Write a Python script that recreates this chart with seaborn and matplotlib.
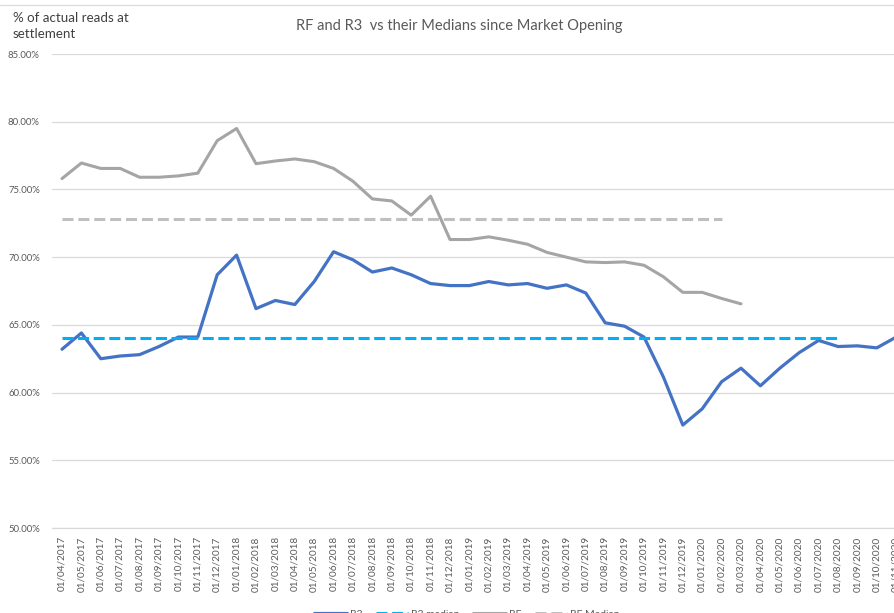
import matplotlib
matplotlib.use("Agg")
import matplotlib.pyplot as plt
from matplotlib.lines import Line2D
from matplotlib.ticker import FixedLocator, FuncFormatter
import seaborn as sns
import pandas as pd

# ---------------- data ----------------
month_labels = [
    "01/04/2017", "01/05/2017", "01/06/2017", "01/07/2017", "01/08/2017", "01/09/2017",
    "01/10/2017", "01/11/2017", "01/12/2017", "01/01/2018", "01/02/2018", "01/03/2018",
    "01/04/2018", "01/05/2018", "01/06/2018", "01/07/2018", "01/08/2018", "01/09/2018",
    "01/10/2018", "01/11/2018", "01/12/2018", "01/01/2019", "01/02/2019", "01/03/2019",
    "01/04/2019", "01/05/2019", "01/06/2019", "01/07/2019", "01/08/2019", "01/09/2019",
    "01/10/2019", "01/11/2019", "01/12/2019", "01/01/2020", "01/02/2020", "01/03/2020",
    "01/04/2020", "01/05/2020", "01/06/2020", "01/07/2020", "01/08/2020", "01/09/2020",
    "01/10/2020", "01/11/2020",
]
r3_values = [
    63.2, 64.4, 62.5, 62.7, 62.8, 63.4, 64.1, 64.1, 68.7, 70.15,
    66.2, 66.8, 66.5, 68.2, 70.4, 69.8, 68.9, 69.2, 68.7, 68.05,
    67.9, 67.9, 68.2, 67.95, 68.05, 67.7, 67.95, 67.35, 65.15, 64.9,
    64.1, 61.15, 57.6, 58.8, 60.8, 61.8, 60.5, 61.8, 62.95, 63.85,
    63.4, 63.45, 63.3, 64.1,
]
rf_values = [
    75.8, 76.95, 76.55, 76.55, 75.9, 75.9, 76.0, 76.2, 78.6, 79.5,
    76.9, 77.1, 77.25, 77.05, 76.55, 75.6, 74.3, 74.15, 73.1, 74.5,
    71.3, 71.3, 71.5, 71.25, 70.95, 70.35, 70.0, 69.65, 69.6, 69.65,
    69.4, 68.55, 67.4, 67.4, 66.95, 66.55,
]
r3_median_value = 64.0
r3_median_months = 41      # 01/04/2017 .. 01/08/2020
rf_median_value = 72.85
rf_median_months = 35      # 01/04/2017 .. 01/02/2020
y_ticks = [50, 55, 60, 65, 70, 75, 80, 85]

title_text = "RF and R3  vs their Medians since Market Opening"
ylabel_text = "% of actual reads at\nsettlement"

# ---------------- frames ----------------
df_r3 = pd.DataFrame({"x": range(len(r3_values)), "y": r3_values})
df_rf = pd.DataFrame({"x": range(len(rf_values)), "y": rf_values})
df_r3m = pd.DataFrame({"x": range(r3_median_months), "y": [r3_median_value] * r3_median_months})
df_rfm = pd.DataFrame({"x": range(rf_median_months), "y": [rf_median_value] * rf_median_months})

# ---------------- style ----------------
sns.set_style("white")
plt.rcParams["font.family"] = ["Lato", "DejaVu Sans"]

W, H = 894, 613
fig = plt.figure(figsize=(W / 100, H / 100), dpi=100)
left_px, right_px = 52.3, 52.3 + 44 * 19.4
top_px, bottom_px = 54, 528
ax = fig.add_axes([left_px / W, 1 - bottom_px / H, (right_px - left_px) / W, (bottom_px - top_px) / H])

c_r3 = "#4472C4"
c_r3m = "#00B0F0"
c_rf = "#A5A5A5"
c_rfm = "#BFBFBF"

sns.lineplot(data=df_r3, x="x", y="y", ax=ax, color=c_r3, linewidth=2.3, label="R3")
sns.lineplot(data=df_r3m, x="x", y="y", ax=ax, color=c_r3m, linewidth=2.2,
             linestyle=(0, (3.6, 1.5)), label="R3 median")
sns.lineplot(data=df_rf, x="x", y="y", ax=ax, color=c_rf, linewidth=2.2, label="RF")
sns.lineplot(data=df_rfm, x="x", y="y", ax=ax, color=c_rfm, linewidth=2.2,
             linestyle=(0, (3.6, 1.6)), label="RF Median")

leg = ax.get_legend()
handles, labels = ax.get_legend_handles_labels()
if leg is not None:
    leg.remove()

ax.set_xlim(-0.5, len(month_labels) - 0.5)
ax.set_ylim(50, 85)

# y axis
ax.set_yticks(y_ticks)
ax.yaxis.set_major_formatter(FuncFormatter(lambda v, p: f"{v:.2f}%"))
ax.tick_params(axis="y", length=0, pad=9, labelsize=6.8, labelcolor="#595959")
ax.grid(axis="y", color="#D9D9D9", linewidth=0.9)
ax.set_axisbelow(True)

# x axis (category)
ax.set_xticks(range(len(month_labels)))
ax.set_xticklabels(month_labels, rotation=90)
ax.xaxis.set_minor_locator(FixedLocator([i - 0.5 for i in range(len(month_labels) + 1)]))
ax.tick_params(axis="x", which="major", length=0, pad=6, labelsize=7.2, labelcolor="#595959")
ax.tick_params(axis="x", which="minor", length=4, width=0.8, color="#D9D9D9", direction="out")
ax.set_xlabel("")
ax.set_ylabel("")

for s in ["left", "right", "top"]:
    ax.spines[s].set_visible(False)
ax.spines["bottom"].set_color("#D9D9D9")
ax.spines["bottom"].set_linewidth(0.9)

# texts
fig.text(459 / W, 1 - 26 / H, title_text, ha="center", va="center",
         fontsize=10.5, color="#595959")
fig.text(13 / W, 1 - 12 / H, ylabel_text, ha="left", va="top",
         fontsize=9.6, color="#404040", linespacing=1.45)

# faint top border remnant
fig.add_artist(Line2D([0, 1], [1 - 5 / H, 1 - 5 / H], color="#D9D9D9", linewidth=0.8))

fig.legend(handles, labels, loc="center", bbox_to_anchor=(467 / W, 1 - 614 / H),
           ncol=4, frameon=False, fontsize=7.5, handlelength=3.1, columnspacing=1.3,
           handletextpad=0.3, labelcolor="#595959")

fig.savefig("out.png", dpi=100)
